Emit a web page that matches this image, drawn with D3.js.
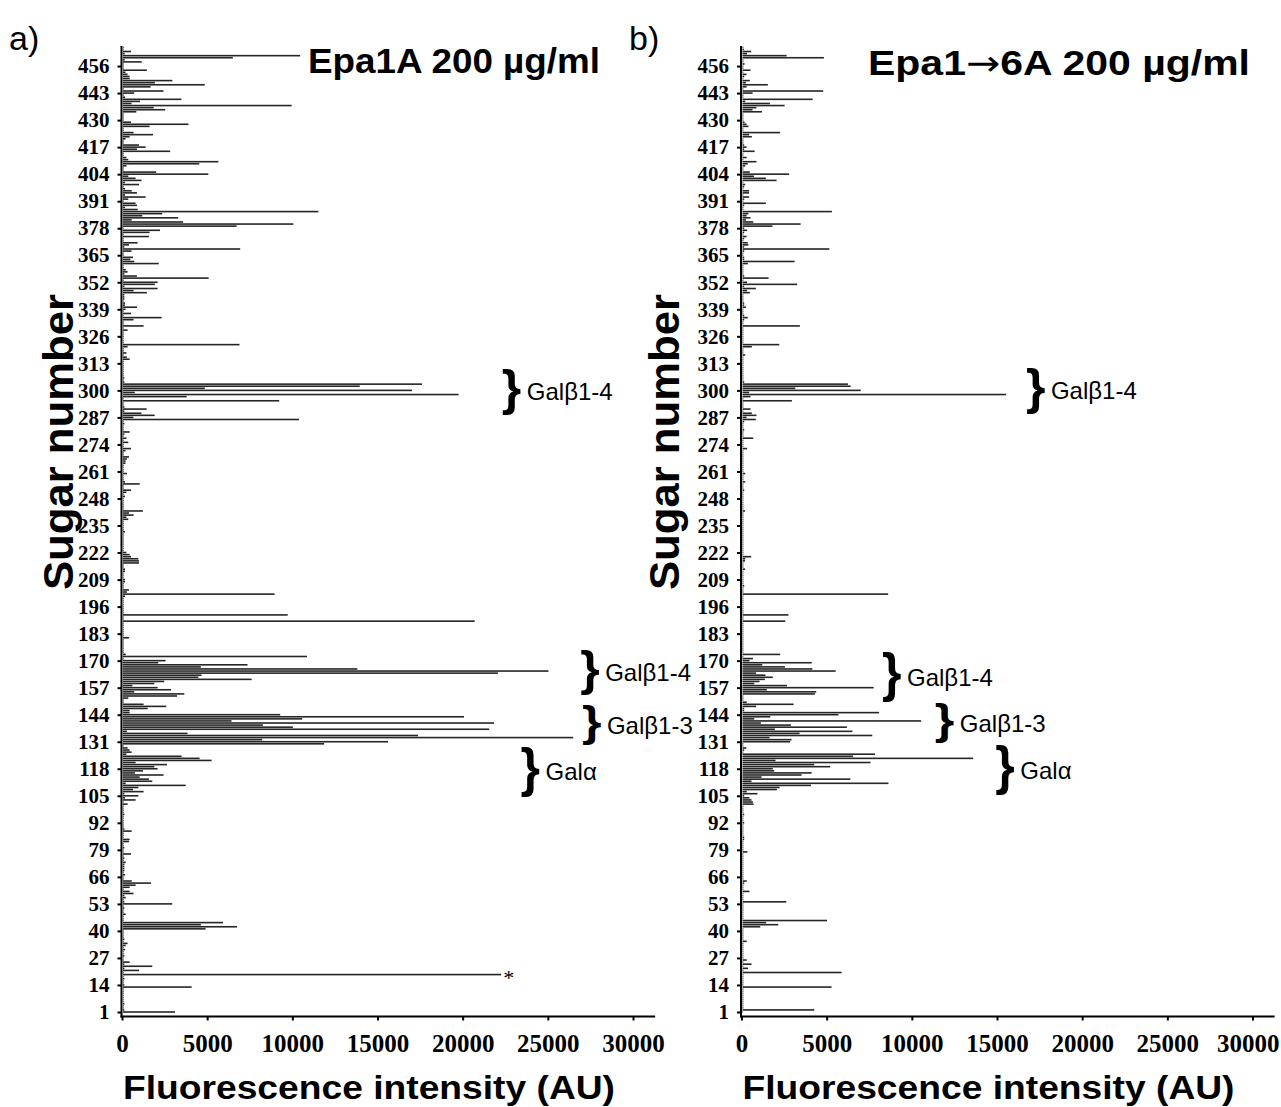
<!DOCTYPE html>
<html>
<head>
<meta charset="utf-8">
<script src="https://cdn.jsdelivr.net/npm/d3@7"></script>
<style>
  html, body { margin: 0; padding: 0; background: #fff; }
  svg { display: block; }
</style>
</head>
<body>
<svg id="chart" width="1281" height="1107"></svg>
<script>
// ---------------- DATA ----------------
// Sugar numbers 1..465 (index 0 = sugar 1)
const sugarCount = 465;
const yTickValues = d3.range(1, 466, 13);          // 1, 14, ... 456
const xTickValues = [0, 5000, 10000, 15000, 20000, 25000, 30000];

// Panel a) Epa1A 200 µg/ml – fluorescence per sugar (AU)
const valuesA = [
  3050,80,40,30,80,30,30,30,30,30,
  30,30,4030,80,30,30,80,30,22200,30,
  940,80,1720,80,390,30,30,80,30,30,
  120,30,160,270,30,80,30,30,30,30,
  4850,6690,4570,5870,30,30,30,160,30,30,
  80,30,2890,80,30,160,80,620,390,30,
  390,740,1640,510,30,30,120,30,80,80,
  80,80,160,30,80,30,470,30,30,80,
  30,30,350,390,30,30,30,510,80,30,
  30,30,30,30,30,80,30,30,30,30,
  270,30,740,120,900,80,1210,590,900,3680,
  160,1720,1520,980,2380,700,1170,2030,1840,2580,
  740,5200,4500,3440,200,510,390,270,30,11810,
  15560,8170,26430,17320,3790,230,21500,9970,8210,21780,
  6370,10520,20020,9230,390,390,1450,2540,1210,30,
  30,310,3170,3600,660,2820,2030,550,1840,2420,
  7550,4420,4610,22010,24980,13760,4570,7310,2070,2500,
  30,10800,160,30,30,30,30,30,30,30,
  350,30,30,30,30,30,30,30,20650,30,
  30,9670,30,30,30,30,30,30,30,30,
  120,8900,230,350,30,30,30,120,120,30,
  30,30,120,120,30,30,940,940,900,470,
  390,200,30,30,30,30,30,30,30,30,
  30,120,30,30,30,30,30,310,200,620,
  350,1170,30,30,30,30,30,30,120,30,
  200,470,30,30,980,120,30,30,30,230,
  30,30,30,30,150,150,230,350,30,30,
  150,470,30,30,310,30,200,30,80,390,
  30,30,30,80,30,10330,610,1860,1080,80,
  1390,80,30,30,9170,30,3740,19700,690,16970,
  4800,13900,17560,80,30,80,30,30,30,30,
  30,30,30,30,390,230,30,200,30,30,
  270,6840,30,30,30,30,30,30,270,30,
  1210,30,30,620,2270,30,470,30,150,820,
  120,120,30,80,80,80,1400,620,2030,80,
  1870,2030,30,5030,820,80,270,160,30,30,
  2100,660,430,590,30,30,500,6880,80,350,
  860,30,30,1520,30,1560,2170,30,6670,10000,
  3530,510,3240,1130,2300,11470,860,120,820,740,
  30,310,1330,120,820,510,120,30,940,120,
  1090,740,310,5010,1950,30,30,200,4480,5600,
  310,200,30,30,2770,820,1330,940,30,30,
  150,390,1760,620,30,30,1560,3840,470,30,
  30,30,30,780,2480,1800,9900,500,1000,3430,
  120,30,660,2380,30,1620,4800,1870,2900,390,
  390,270,150,1400,30,30,30,1100,100,6450,
  10400,100,470,30,30
];

// Panel b) Epa1→6A 200 µg/ml – fluorescence per sugar (AU)
const valuesB = [
  30,4210,50,50,50,50,50,50,50,50,
  50,50,5230,50,50,50,50,50,50,5820,
  50,330,50,530,50,250,50,50,50,50,
  50,50,50,50,250,50,50,50,50,50,
  50,1040,2100,1390,4960,50,50,50,50,50,
  50,50,50,2570,50,50,50,50,410,50,
  50,50,100,250,50,50,50,50,50,50,
  50,50,50,50,50,50,50,290,50,50,
  50,50,50,100,100,50,50,50,50,50,
  50,100,50,50,50,100,50,50,50,50,
  650,610,530,410,100,880,250,2020,2180,4020,
  8570,530,6330,1120,3470,4060,1860,1780,5150,4210,
  7510,1940,13540,6490,7780,50,100,220,50,50,
  2800,2880,1590,7620,3350,6450,1900,6130,2840,1080,
  10490,690,1630,5630,8020,100,100,800,3000,250,
  50,50,50,4250,4330,1430,7700,2610,690,1000,
  1310,1780,1350,800,5470,4100,2490,1160,4060,410,
  610,50,2210,50,50,50,50,50,50,50,
  50,50,50,50,50,50,50,50,2510,50,
  50,2700,50,50,50,50,50,50,50,50,
  50,8550,50,50,50,100,50,50,50,50,
  50,50,50,150,50,50,50,150,160,510,
  50,50,50,50,50,50,50,50,50,50,
  50,50,50,50,50,50,50,50,50,50,
  50,150,50,50,50,50,50,50,50,50,
  50,100,50,50,50,160,50,50,50,160,
  50,50,50,50,50,50,50,50,50,50,
  50,270,50,50,50,50,630,50,50,50,
  100,50,50,50,100,780,240,820,550,50,
  470,50,50,50,2900,50,470,15480,390,6940,
  3100,6350,6190,100,50,50,50,50,50,50,
  50,50,50,50,50,50,160,50,50,50,
  550,2160,50,50,50,50,50,50,50,50,
  3370,50,50,100,310,100,50,50,50,200,
  100,100,50,50,50,50,430,270,780,100,
  3210,270,50,1530,100,50,50,50,50,50,
  310,3060,100,100,50,50,100,5100,100,350,
  310,50,100,240,50,100,270,100,1760,3410,
  630,200,470,240,350,5250,50,50,100,1370,
  50,100,390,50,390,390,50,100,160,50,
  2000,1370,670,2740,430,50,50,160,310,820,
  50,240,50,50,710,100,240,100,50,50,
  50,550,390,2200,50,50,350,240,120,50,
  50,50,50,1140,590,820,2470,1610,160,4120,
  50,50,590,4740,50,240,1490,200,430,50,
  100,240,50,470,50,50,120,50,50,4780,
  2590,270,510,80,50
];

// Bracket annotations: label, sugar range, x position (AU)
const bracketsA = [
  { label: "Galβ1-4", from: 288, to: 311, at: 22300 },
  { label: "Galβ1-4", from: 153.5, to: 175, at: 26900 },
  { label: "Galβ1-3", from: 129.5, to: 148.5, at: 27000 },
  { label: "Galα",    from: 104.5, to: 128.5, at: 23400 }
];
const bracketsB = [
  { label: "Galβ1-4", from: 288.5, to: 311.5, at: 16700 },
  { label: "Galβ1-4", from: 150, to: 174, at: 8250 },
  { label: "Galβ1-3", from: 130.5, to: 149.5, at: 11350 },
  { label: "Galα",    from: 105, to: 129.5, at: 14900 }
];
const asteriskA = [{ sugar: 19, at: 22700 }];

// ---------------- DRAW ----------------
const svg = d3.select("#chart");
const y = d3.scaleLinear().domain([1, sugarCount]).range([1012, 1012 - 464 * 2.079]);
const SANS = "'Liberation Sans', Arial, sans-serif";
const SERIF = "'Liberation Serif', 'Times New Roman', serif";

function drawPanel(opts) {
  const g = svg.append("g");
  const x = d3.scaleLinear().domain([0, 30000]).range([opts.left, opts.left + 511]);

  // bars
  g.append("g").selectAll("rect").data(opts.values).join("rect")
    .attr("x", x(0) + 1)
    .attr("y", (d, i) => y(i + 1) - 0.8)
    .attr("width", d => Math.max(0.6, x(d) - x(0)))
    .attr("height", 1.6)
    .attr("fill", "#262626");

  // y axis
  const ya = g.append("g")
    .attr("transform", `translate(${opts.left - 0.5},0)`)
    .call(d3.axisLeft(y).tickValues(yTickValues).tickSize(4).tickPadding(8).tickSizeOuter(0));
  ya.select(".domain").remove();
  ya.selectAll(".tick line").attr("stroke", "#000").attr("stroke-width", 2);
  ya.selectAll(".tick text")
    .attr("fill", "#000")
    .style("font-family", SERIF)
    .style("font-weight", "bold")
    .style("font-size", "21px");

  // x axis
  const xa = g.append("g")
    .attr("transform", `translate(0,1016.5)`)
    .call(d3.axisBottom(x).tickValues(xTickValues).tickSize(4).tickPadding(14).tickFormat(d3.format("d")).tickSizeOuter(0));
  xa.select(".domain").remove();
  xa.selectAll(".tick line").attr("stroke", "#000").attr("stroke-width", 2);
  xa.selectAll(".tick text")
    .attr("fill", "#000")
    .style("font-family", SERIF)
    .style("font-weight", "bold")
    .style("font-size", "25px")
    .each(function(d) {
      // keep labels inside the picture
      const bb = this.getBBox();
      const right = x(d) + bb.x + bb.width;
      if (right > 1279) d3.select(this).attr("dx", 1279 - right);
    });

  // axis lines
  g.append("line")
    .attr("x1", opts.left - 0.5).attr("x2", opts.left - 0.5)
    .attr("y1", 46).attr("y2", 1017.5)
    .attr("stroke", "#000").attr("stroke-width", 2);
  g.append("line")
    .attr("x1", opts.left - 1.5).attr("x2", x(31300))
    .attr("y1", 1016.5).attr("y2", 1016.5)
    .attr("stroke", "#000").attr("stroke-width", 2);

  // panel letter
  g.append("text")
    .attr("x", opts.letterX).attr("y", 50)
    .style("font-family", SANS)
    .style("font-size", "34px")
    .text(opts.letter);

  // title
  const t = g.append("text")
    .attr("x", opts.titleX).attr("y", opts.titleY)
    .attr("textLength", opts.titleLen).attr("lengthAdjust", "spacingAndGlyphs")
    .style("font-family", SANS)
    .style("font-weight", "bold")
    .style("font-size", "35px");
  opts.titleParts.forEach(p => {
    const ts = t.append("tspan").text(p.text);
    if (p.arrow) ts.style("font-family", "'DejaVu Sans', sans-serif").style("font-weight", "normal");
  });

  // y title
  g.append("text")
    .attr("transform", `translate(${opts.yTitleX},442) rotate(-90)`)
    .attr("text-anchor", "middle")
    .attr("textLength", 296).attr("lengthAdjust", "spacingAndGlyphs")
    .style("font-family", SANS)
    .style("font-weight", "bold")
    .style("font-size", "43px")
    .text("Sugar number");

  // x title
  g.append("text")
    .attr("x", opts.left + 1).attr("y", 1099)
    .attr("textLength", 492).attr("lengthAdjust", "spacingAndGlyphs")
    .style("font-family", SANS)
    .style("font-weight", "bold")
    .style("font-size", "34px")
    .text("Fluorescence intensity (AU)");

  // brackets
  const bg = g.append("g").selectAll("g").data(opts.brackets).join("g");
  bg.append("text")
    .attr("transform", d => {
      const top = y(d.to), bot = y(d.from);
      const h = bot - top;
      return `translate(${x(d.at)},${top}) scale(1,${h / 47})`;
    })
    .attr("y", 36.5)
    .style("font-family", SANS)
    .style("font-weight", "bold")
    .style("font-size", "50px")
    .text("}");
  bg.append("text")
    .attr("x", d => x(d.at) + 25)
    .attr("y", d => (y(d.to) + y(d.from)) / 2 + 8.5)
    .style("font-family", SANS)
    .style("font-size", "24px")
    .text(d => d.label);

  // asterisk
  g.append("g").selectAll("text").data(opts.asterisks || []).join("text")
    .attr("x", d => x(d.at))
    .attr("y", d => y(d.sugar) + 10)
    .attr("text-anchor", "middle")
    .style("font-family", SERIF)
    .style("font-size", "22px")
    .text("*");
}

drawPanel({
  values: valuesA, left: 122, letter: "a)", letterX: 9,
  titleParts: [{ text: "Epa1A 200 µg/ml" }], titleX: 308, titleY: 73, titleLen: 292,
  yTitleX: 73, brackets: bracketsA, asterisks: asteriskA
});
drawPanel({
  values: valuesB, left: 741.5, letter: "b)", letterX: 629,
  titleParts: [{ text: "Epa1" }, { text: "→", arrow: true }, { text: "6A 200 µg/ml" }],
  titleX: 868, titleY: 75, titleLen: 382,
  yTitleX: 679, brackets: bracketsB
});
</script>
</body>
</html>
